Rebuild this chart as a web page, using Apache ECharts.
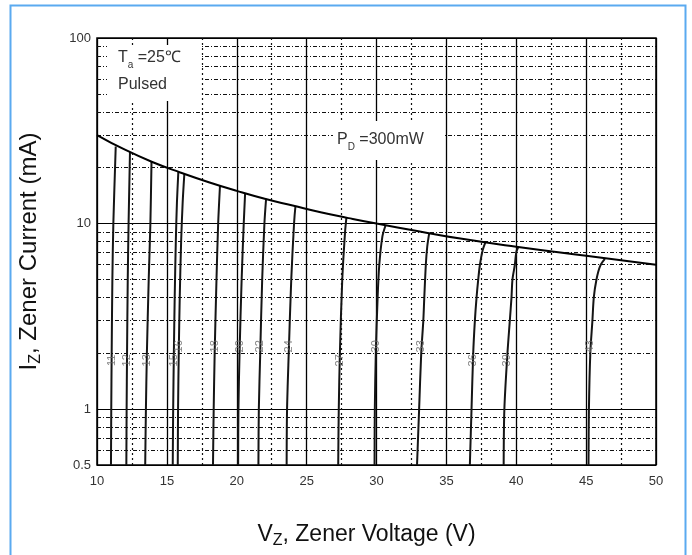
<!DOCTYPE html>
<html>
<head>
<meta charset="utf-8">
<script src="https://cdn.jsdelivr.net/npm/echarts@6/dist/echarts.min.js"></script>
<style>
html,body{margin:0;padding:0;background:#fff;}
#chart{width:692px;height:555px;}
</style>
</head>
<body>
<div id="chart"></div>
<script>
// ---- data ----
const xTickValues = [10, 15, 20, 25, 30, 35, 40, 45, 50];
const yTickLabels = [0.5, 1, 10, 100];
const xMinorGrid = [12.5, 17.5, 22.5, 27.5, 32.5, 37.5, 42.5, 47.5];
const yMinorGrid = [0.6, 0.7, 0.8, 0.9, 2, 3, 4, 5, 6, 7, 8, 9, 20, 30, 40, 50, 60, 70, 80, 90];

// power dissipation limit Pd = 300 mW : [Vz, Iz]
const powerCurve = [[10,30],[12,25],[14,21.4],[16,18.8],[18,16.7],[20,15],[22,13.6],[24,12.5],
  [26,11.5],[28,10.7],[30,10],[33,9.1],[36,8.3],[40,7.5],[45,6.7],[50,6]];

const zenerNames = ['11','12','13','15','16','18','20','22','24','27','30','33','36','39','43'];
const zener11 = [[11.0,0.5],[11.02,1],[11.05,2],[11.1,5],[11.17,10],[11.34,26]];
const zener12 = [[12.1,0.5],[12.12,1],[12.15,2],[12.2,5],[12.26,10],[12.36,24.3]];
const zener13 = [[13.45,0.5],[13.5,1],[13.57,2],[13.7,5],[13.82,10],[13.9,21.5]];
const zener15 = [[15.42,0.5],[15.45,1],[15.5,2],[15.56,4],[15.64,8],[15.72,13],[15.82,19]];
const zener16 = [[15.78,0.5],[15.8,1],[15.85,2],[15.92,4],[16.02,8],[16.13,13],[16.25,18.5]];
const zener18 = [[18.3,0.5],[18.35,1],[18.42,2],[18.55,5],[18.67,10],[18.8,16]];
const zener20 = [[20.1,0.5],[20.12,1],[20.2,2],[20.35,5],[20.5,10],[20.6,14.6]];
const zener22 = [[21.55,0.5],[21.58,1],[21.68,2],[21.82,5],[21.98,10],[22.1,13.6]];
const zener24 = [[23.57,0.5],[23.6,1],[23.72,2],[23.9,5],[24.1,10],[24.2,12.4]];
const zener27 = [[27.26,0.5],[27.3,1],[27.38,2],[27.55,5],[27.75,9],[27.85,10.8]];
const zener30 = [[29.86,0.5],[29.88,1],[29.95,2],[30.08,4],[30.2,6],[30.42,8.5],[30.65,9.8]];
const zener33 = [[32.9,0.5],[33.05,1],[33.2,2],[33.35,3],[33.42,4],[33.53,6],[33.63,7.5],[33.77,8.85]];
const zener36 = [[36.68,0.5],[36.8,1],[36.92,2],[37.04,3],[37.16,4],[37.28,5],[37.4,6],[37.6,7.2],[37.8,7.95]];
const zener39 = [[39.1,0.5],[39.15,1],[39.37,2],[39.54,3],[39.66,4],[39.73,5],[39.9,6],[40.0,7],[40.14,7.45]];
const zener43 = [[45.17,0.5],[45.2,1],[45.3,2],[45.45,3],[45.55,4],[45.74,5],[46.0,5.9],[46.34,6.45]];
const zenerCurves = [zener11, zener12, zener13, zener15, zener16, zener18, zener20, zener22,
  zener24, zener27, zener30, zener33, zener36, zener39, zener43];

// label side for each curve tag (style only): -1 left of curve, +1 right
const labelSide = [-1,-1,-1,-1,1,1,1,1,1,-1,1,1,-1,-1,1];
const labelCurrent = 2;

const FONT = '"Liberation Sans", Arial, sans-serif';
const chart = echarts.init(document.getElementById('chart'), null, {renderer: 'canvas'});

const series = [];
zenerCurves.forEach((pts, i) => {
  series.push({
    type: 'line', name: 'Vz ' + zenerNames[i], data: pts, showSymbol: false, smooth: 0.3,
    lineStyle: {color: '#151515', width: 2}, silent: true, z: 5, animation: false
  });
});
series.push({
  type: 'line', name: 'Pd', data: powerCurve, showSymbol: false, smooth: true,
  lineStyle: {color: '#000', width: 2}, silent: true, z: 6, animation: false,
  markLine: {
    silent: true, symbol: 'none', animation: false, label: {show: false},
    data: [
      ...yMinorGrid.map(v => ({yAxis: v, lineStyle: {color: '#111', width: 1, type: [4, 2, 1, 2]}})),
      ...xMinorGrid.map(v => ({xAxis: v, lineStyle: {color: '#111', width: 1.2, type: [2, 3]}}))
    ]
  }
});
// curve tags
series.push({
  type: 'scatter', symbolSize: 0, silent: true, z: 7, animation: false,
  data: zenerCurves.map((pts, i) => {
    const p = pts.find(q => q[1] === labelCurrent) || pts[0];
    return {
      value: [p[0], labelCurrent], name: zenerNames[i],
      label: {offset: [labelSide[i] * 7, 0]}
    };
  }),
  label: {
    show: true, position: 'inside', formatter: '{b}', rotate: 90,
    fontSize: 11, color: '#666', fontFamily: FONT
  }
});

const option = {
  animation: false,
  backgroundColor: '#fff',
  grid: {left: 97, right: 36, top: 38, bottom: 90, show: true, borderColor: '#000', borderWidth: 1.5},
  xAxis: {
    type: 'value', min: 10, max: 50, interval: 5,
    axisLine: {show: false}, axisTick: {show: false},
    axisLabel: {margin: 10, fontSize: 13, color: '#333', fontFamily: FONT,
      customValues: xTickValues},
    splitLine: {show: true, lineStyle: {color: '#000', width: 1.3}},
    name: '{m|V}{s|Z}{m|, Zener Voltage (V)}',
    nameLocation: 'middle', nameGap: 58,
    nameTextStyle: {padding: [0, 20, 0, 0],
      rich: {m: {fontSize: 23, color: '#111', fontFamily: FONT},
             s: {fontSize: 16, color: '#111', fontFamily: FONT, verticalAlign: 'bottom', padding: [0, 0, -3, 0]}}}
  },
  yAxis: {
    type: 'log', logBase: 10, min: 0.5, max: 100,
    axisLine: {show: false}, axisTick: {show: false},
    axisLabel: {margin: 6, fontSize: 13, color: '#333', fontFamily: FONT,
      formatter: v => {
        const m = yTickLabels.find(t => Math.abs(t - v) / t < 1e-6);
        return m === undefined ? '' : String(m);
      }},
    splitLine: {show: true, lineStyle: {color: '#000', width: 1.2}},
    name: '{m|I}{s|Z}{m|, Zener Current (mA)}',
    nameLocation: 'middle', nameGap: 56,
    nameTextStyle: {
      rich: {m: {fontSize: 24, color: '#111', fontFamily: FONT},
             s: {fontSize: 16, color: '#111', fontFamily: FONT, verticalAlign: 'bottom', padding: [0, 0, -3, 0]}}}
  },
  graphic: [
    {type: 'rect', left: 8, top: 3, z: 100, silent: true,
      shape: {width: 675, height: 560}, style: {fill: 'none', stroke: '#5aaaf0', lineWidth: 2}},
    {type: 'rect', left: 107, top: 45, z: 90, silent: true,
      shape: {width: 93, height: 56}, style: {fill: '#fff'}},
    {type: 'text', left: 118, top: 50, z: 91, silent: true,
      style: {text: '{m|T}{s|a}{m| =25℃}', rich: {
        m: {fontSize: 16, fill: '#333', fontFamily: FONT},
        s: {fontSize: 10, fill: '#333', fontFamily: FONT, verticalAlign: 'bottom', padding: [0, 0, -4, 0]}}}},
    {type: 'text', left: 118, top: 77, z: 91, silent: true,
      style: {text: 'Pulsed', fontSize: 16, fill: '#333', fontFamily: FONT}},
    {type: 'rect', left: 333, top: 121, z: 90, silent: true,
      shape: {width: 110, height: 39}, style: {fill: '#fff'}},
    {type: 'text', left: 337, top: 132, z: 91, silent: true,
      style: {text: '{m|P}{s|D}{m| =300mW}', rich: {
        m: {fontSize: 16, fill: '#333', fontFamily: FONT},
        s: {fontSize: 10, fill: '#333', fontFamily: FONT, verticalAlign: 'bottom', padding: [0, 0, -4, 0]}}}}
  ],
  series: series
};
chart.setOption(option);
</script>
</body>
</html>
